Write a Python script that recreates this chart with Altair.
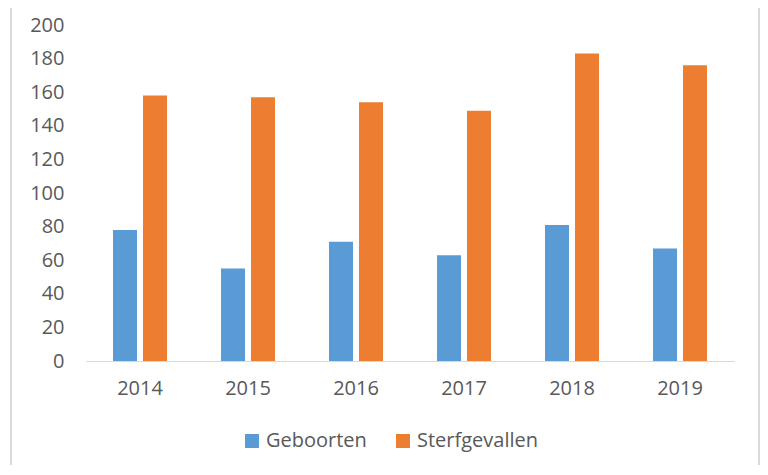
import altair as alt
import pandas as pd

years = ["2014", "2015", "2016", "2017", "2018", "2019"]
geboorten = [78, 55, 71, 63, 81, 67]
sterfgevallen = [158, 157, 154, 149, 183, 176]
series = ["Geboorten", "Sterfgevallen"]
colors = ["#5B9BD5", "#ED7D31"]
y_ticks = [0, 20, 40, 60, 80, 100, 120, 140, 160, 180, 200]

rows = []
for i, yr in enumerate(years):
    rows.append({"jaar": yr, "reeks": series[0], "waarde": geboorten[i]})
    rows.append({"jaar": yr, "reeks": series[1], "waarde": sterfgevallen[i]})
df = pd.DataFrame(rows)

FONT = "Open Sans"
TXT = "#595959"
FS = 20

bars = alt.Chart(df).mark_bar().encode(
    x=alt.X("jaar:N", sort=years, title=None,
            scale=alt.Scale(paddingInner=0.5, paddingOuter=0.25),
            axis=alt.Axis(labelAngle=0, ticks=False, domainColor="#D9D9D9", domainWidth=1,
                          labelFontSize=FS, labelColor=TXT, labelFont=FONT, labelPadding=17)),
    xOffset=alt.XOffset("reeks:N", sort=series,
                        scale=alt.Scale(paddingInner=0.2, paddingOuter=0)),
    y=alt.Y("waarde:Q", title=None,
            scale=alt.Scale(domain=[0, 200], nice=False),
            axis=alt.Axis(values=y_ticks, grid=False, domain=False, ticks=False,
                          labelFontSize=FS, labelColor=TXT, labelFont=FONT, labelPadding=22)),
    color=alt.Color("reeks:N", sort=series,
                    scale=alt.Scale(domain=series, range=colors),
                    legend=alt.Legend(title=None, orient="none", direction="horizontal",
                                      legendX=156, legendY=406,
                                      symbolType="square", symbolSize=196, symbolStrokeWidth=0,
                                      labelFontSize=FS, labelColor=TXT, labelFont=FONT,
                                      labelOffset=4, columnPadding=26)),
)

border = alt.Chart(pd.DataFrame({"k": [0]})).mark_rule(color="#D9D9D9", strokeWidth=2).encode(
    x=alt.value(-75), y=alt.value(-30), y2=alt.value(470)
)
border_r = alt.Chart(pd.DataFrame({"k": [0]})).mark_rule(color="#D9D9D9", strokeWidth=2).encode(
    x=alt.value(673), y=alt.value(-30), y2=alt.value(470)
)

chart = alt.layer(border, border_r, bars).properties(
    width=648, height=336,
    background="white",
    autosize=alt.AutoSizeParams(type="none"),
    padding={"left": 78, "top": 17, "right": 26, "bottom": 104},
).configure_view(strokeWidth=0, stroke="transparent")

chart.save("out.html", embed_options={"renderer": "svg", "actions": False})
